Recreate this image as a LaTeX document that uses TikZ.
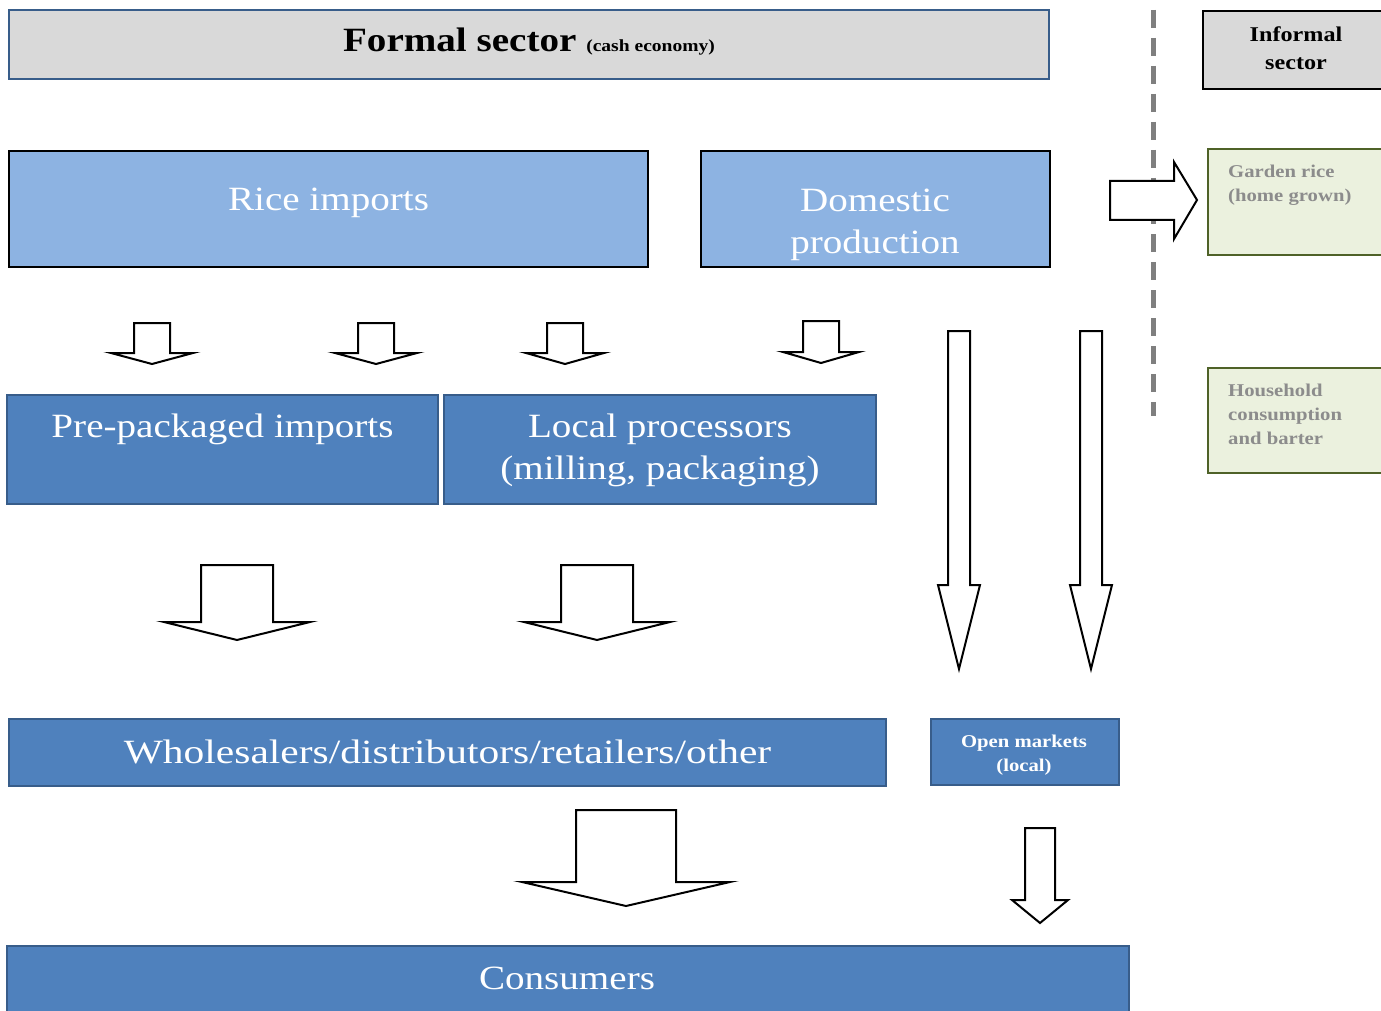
\documentclass[tikz,border=0pt]{standalone}
\usepackage{fontspec}
\setmainfont[FakeStretch=1.15]{Liberation Serif}
\definecolor{lblue}{HTML}{8DB3E2}
\definecolor{mblue}{HTML}{4F81BD}
\definecolor{dblue}{HTML}{385D8A}
\definecolor{gfill}{HTML}{D9D9D9}
\definecolor{grfill}{HTML}{EBF1DE}
\definecolor{grline}{HTML}{4F6228}
\definecolor{gtext}{HTML}{8C8C8C}
\definecolor{divgrey}{HTML}{7F7F7F}
\newcommand\blockdown[7]{%
  \draw[blockarr] (#2-#6,#3) -- (#2+#6,#3) -- (#2+#6,#4) -- (#2+#7,#4) -- (#2,#5)
    -- (#2-#7,#4) -- (#2-#6,#4) -- cycle;}
\begin{document}
\begin{tikzpicture}[x=1pt,y=-1pt,
  box/.style={draw, line width=2pt, inner sep=0pt, rectangle},
  lightbox/.style={box, fill=lblue, draw=black},
  bluebox/.style={box, fill=mblue, draw=dblue},
  greybox/.style={box, fill=gfill},
  greenbox/.style={box, fill=grfill, draw=grline},
  whitetext/.style={text=white, align=center, inner sep=0pt},
  greentext/.style={text=gtext, align=left, anchor=north west, inner sep=0pt,
    font=\bfseries\fontsize{18}{24}\selectfont},
  blockarr/.style={draw=black, fill=white, line width=2pt, line join=miter},
  big/.style={font=\fontsize{34}{42}\selectfont}
]
\useasboundingbox[fill=white] (0,0) rectangle (1381,1011);

% dashed divider
\draw[divgrey, line width=5pt, dash pattern=on 18pt off 10pt] (1153,10) -- (1153,416);

% Formal sector
\node[greybox, draw=dblue, minimum width=1040pt, minimum height=69pt] (formal) at (529,44.5) {};
\node[inner sep=0pt] (formalt) at (529,42) {\bfseries\fontsize{34}{40}\selectfont Formal sector \fontsize{17}{20}\selectfont (cash economy)};

% Informal sector
\node[greybox, draw=black, minimum width=200pt, minimum height=78pt] (informal) at (1303,50) {};
\node[align=center, inner sep=0pt, font=\bfseries\fontsize{21}{28}\selectfont] (informalt) at (1296,48) {Informal\\sector};

% Rice imports / Domestic production
\node[lightbox, minimum width=639pt, minimum height=116pt] (rice) at (328.5,209) {};
\node[whitetext, big] (ricet) at (328.5,203) {Rice imports};
\node[lightbox, minimum width=349pt, minimum height=116pt] (dom) at (875.5,209) {};
\node[whitetext, big] (domt) at (875,225) {Domestic\\production};

% Garden rice / Household
\node[greenbox, minimum width=200pt, minimum height=106pt] (garden) at (1308,202) {};
\node[greentext] (gardent) at (1228,165) {Garden rice\\(home grown)};
\node[greenbox, minimum width=200pt, minimum height=105pt] (house) at (1308,420.5) {};
\node[greentext] (houset) at (1228,384) {Household\\consumption\\and barter};

% right arrow to informal
\draw[blockarr] (1110,181) -- (1174,181) -- (1174,162) -- (1197,200) -- (1174,239)
  -- (1174,220) -- (1110,220) -- cycle;

% small down arrows
\blockdown{a1}{152}{323}{353}{364}{18}{41}
\blockdown{a2}{376}{323}{353}{364}{18}{41}
\blockdown{a3}{565}{323}{353}{364}{18}{39}
\blockdown{a4}{821}{321}{352}{363}{18}{38}

% long arrows
\blockdown{l1}{959}{331}{585}{669}{11}{21}
\blockdown{l2}{1091}{331}{585}{669}{11}{21}

% Pre-packaged / Local processors
\node[bluebox, minimum width=431pt, minimum height=109pt] (pre) at (222.5,449.5) {};
\node[whitetext, big] (pret) at (222.5,429) {Pre-packaged imports};
\node[bluebox, minimum width=432pt, minimum height=109pt] (loc) at (660,449.5) {};
\node[whitetext, big] (loct) at (660,450) {Local processors\\(milling, packaging)};

% medium arrows
\blockdown{m1}{237}{565}{622}{640}{36}{73}
\blockdown{m2}{597}{565}{622}{640}{36}{73}

% Wholesalers / Open markets
\node[bluebox, minimum width=877pt, minimum height=67pt] (whole) at (447.5,752.5) {};
\node[whitetext, big] (wholet) at (447.5,752) {\addfontfeature{FakeStretch=1.22}Wholesalers/distributors/retailers/other};
\node[bluebox, minimum width=188pt, minimum height=66pt] (open) at (1025,752) {};
\node[whitetext, font=\bfseries\fontsize{18}{24}\selectfont] (opent) at (1024,755) {Open markets\\(local)};

% bottom arrows
\blockdown{b1}{626}{810}{882}{906}{50}{104}
\blockdown{b2}{1040}{828}{900}{923}{15}{28}

% Consumers
\node[bluebox, minimum width=1122pt, minimum height=80pt] (cons) at (568,986) {};
\node[whitetext, big] (const) at (567,978) {Consumers};
\end{tikzpicture}
\end{document}
